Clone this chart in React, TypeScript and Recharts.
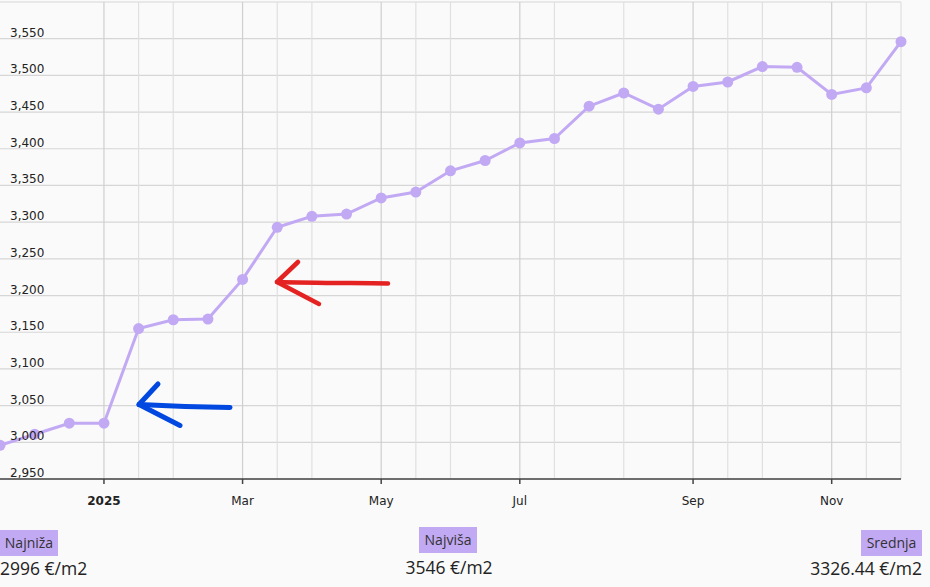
import React from "react";
import { LineChart, Line, XAxis, YAxis, CartesianGrid, ReferenceLine } from "recharts";

// values per period (roughly twice a month, Dec 2024 – Nov 2025)
const periodIdx = [0, 1, 2, 3, 4, 5, 6, 7, 8, 9, 10, 11, 12, 13, 14, 15, 16, 17, 18, 19, 20, 21, 22, 23, 24, 25, 26];
const prices = [2996, 3011, 3026, 3026, 3155, 3167, 3168, 3222, 3293, 3308, 3311, 3333, 3341, 3370, 3384, 3408, 3414, 3458, 3476, 3454, 3485, 3491, 3512, 3511, 3474, 3483, 3546];

const xTickIdx = [3, 7, 11, 15, 20, 24];
const xTickLabels = ["2025", "Mar", "May", "Jul", "Sep", "Nov"];
const minorGridIdx = [4, 5, 8, 9, 12, 13, 16, 18, 21, 22, 25, 26];
const yTicks = [2950, 3000, 3050, 3100, 3150, 3200, 3250, 3300, 3350, 3400, 3450, 3500, 3550, 3600];

const statLabels = ["Najniža", "Najviša", "Srednja"];
const statValues = ["2996 €/m2", "3546 €/m2", "3326.44 €/m2"];

const data = periodIdx.map((i) => ({ idx: i, price: prices[i] }));

const PURPLE = "#c2a9f4";
const FONT = "'DejaVu Sans', Verdana, sans-serif";

const renderXTick = (props: any) => {
  const { x, y, payload } = props;
  const k = xTickIdx.indexOf(payload.value);
  const label = k >= 0 ? xTickLabels[k] : "";
  return (
    <text key={"xt" + payload.value} x={x} y={y} dy="0.71em" textAnchor="middle" fontSize={12} fontFamily={FONT}
      fontWeight={k === 0 ? "bold" : "normal"} fill="#222">
      {label}
    </text>
  );
};

const renderYTick = (props: any) => {
  const { y, payload } = props;
  if (payload.value === 3600) return <g key="yt3600" />;
  return (
    <text key={"yt" + payload.value} x={10} y={y - 2} textAnchor="start" fontSize={12} fontFamily={FONT} fill="#222">
      {Number(payload.value).toLocaleString("en-US")}
    </text>
  );
};

export default function App() {
  return (
    <div style={{ position: "fixed", left: 0, top: 0, width: 930, height: 587, background: "#fafafa", overflow: "hidden" }}>
      <div style={{ position: "absolute", left: 0, top: 0 }}>
        <LineChart width={930} height={520} data={data} margin={{ top: 2, right: 29, left: -1, bottom: 0 }}>
          <CartesianGrid vertical={false} stroke="#d6d6d6" strokeWidth={1.2} />
          {minorGridIdx.map((i) => (
            <ReferenceLine key={"m" + i} x={i} stroke="#e0e0e0" strokeWidth={1.2} />
          ))}
          {xTickIdx.map((i) => (
            <ReferenceLine key={"M" + i} x={i} stroke="#cfcfcf" strokeWidth={1.2} />
          ))}
          <XAxis dataKey="idx" type="number" domain={[0, 26]} ticks={xTickIdx} interval={0}
            height={41} tickSize={5} tickMargin={12} tick={renderXTick}
            axisLine={{ stroke: "#444", strokeWidth: 1.5 }} tickLine={{ stroke: "#444", strokeWidth: 1.5 }} />
          <YAxis type="number" domain={[2950, 3600]} ticks={yTicks} interval={0} width={1}
            axisLine={false} tickLine={false} tick={renderYTick} />
          <Line type="linear" dataKey="price" stroke={PURPLE} strokeWidth={3}
            dot={{ r: 5.5, fill: PURPLE, stroke: PURPLE, strokeWidth: 0 }}
            activeDot={false} isAnimationActive={false} />
        </LineChart>
      </div>
      <svg width={930} height={587} style={{ position: "absolute", left: 0, top: 0, pointerEvents: "none" }}>
        <g fill="none" stroke="#e42222" strokeWidth={4.5} strokeLinecap="round" strokeLinejoin="round">
          <path d="M388 283.5 C350 283, 310 283, 277 282" />
          <path d="M298 262 L277 282 L319 304" />
        </g>
        <g fill="none" stroke="#0048e0" strokeWidth={5} strokeLinecap="round" strokeLinejoin="round">
          <path d="M230 407.5 C200 407, 170 406, 139 404.5" />
          <path d="M158 384 L139 404.5 L180 425.5" />
        </g>
      </svg>
      <div style={{ position: "absolute", left: 0, top: 530, width: 58, height: 26, background: PURPLE,
        fontFamily: "'Open Sans', sans-serif", fontSize: 14, color: "#333", lineHeight: "26px", textAlign: "center" }}>
        {statLabels[0]}
      </div>
      <div style={{ position: "absolute", left: 0, top: 556, fontFamily: "'Open Sans', sans-serif", fontSize: 17.5,
        color: "#222", lineHeight: "24px", whiteSpace: "nowrap" }}>
        {statValues[0]}
      </div>
      <div style={{ position: "absolute", left: 419, top: 527, width: 58, height: 26, background: PURPLE,
        fontFamily: "'Open Sans', sans-serif", fontSize: 14, color: "#333", lineHeight: "26px", textAlign: "center" }}>
        {statLabels[1]}
      </div>
      <div style={{ position: "absolute", left: 349, width: 200, top: 555, fontFamily: "'Open Sans', sans-serif", fontSize: 17.5,
        color: "#222", lineHeight: "24px", textAlign: "center", whiteSpace: "nowrap" }}>
        {statValues[1]}
      </div>
      <div style={{ position: "absolute", left: 861, top: 530, width: 61, height: 26, background: PURPLE,
        fontFamily: "'Open Sans', sans-serif", fontSize: 14, color: "#333", lineHeight: "26px", textAlign: "center" }}>
        {statLabels[2]}
      </div>
      <div style={{ position: "absolute", right: 8, top: 556, fontFamily: "'Open Sans', sans-serif", fontSize: 17.5,
        color: "#222", lineHeight: "24px", textAlign: "right", whiteSpace: "nowrap" }}>
        {statValues[2]}
      </div>
    </div>
  );
}
